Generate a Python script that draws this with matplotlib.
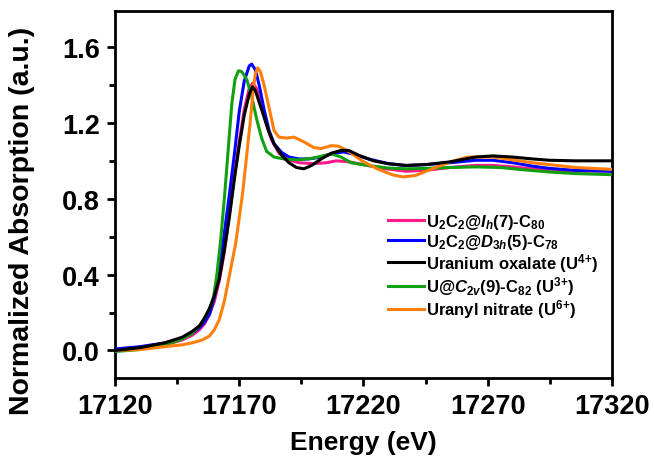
import matplotlib
matplotlib.use("Agg")
import matplotlib.pyplot as plt

plt.rcParams['font.family'] = ['Liberation Sans', 'DejaVu Sans']
plt.rcParams['font.weight'] = 'bold'
plt.rcParams['mathtext.fontset'] = 'custom'
plt.rcParams['mathtext.rm'] = 'Liberation Sans:bold'
plt.rcParams['mathtext.it'] = 'Liberation Sans:bold:italic'
plt.rcParams['mathtext.bf'] = 'Liberation Sans:bold'

# U L3-edge XANES curves (energy in eV, normalized absorption)
pinkE = [17120, 17130, 17140, 17147, 17151, 17154, 17156, 17158, 17160, 17162, 17164, 17166, 17168,
         17170, 17172, 17174, 17175.5, 17177, 17179, 17181, 17183, 17186, 17190, 17194, 17200, 17205,
         17209, 17214, 17220, 17228, 17237, 17245, 17255, 17265, 17272, 17280, 17290, 17300, 17320]
pinkA = [0.0, 0.01, 0.03, 0.055, 0.08, 0.11, 0.14, 0.19, 0.26, 0.37, 0.52, 0.72, 0.92,
         1.10, 1.27, 1.38, 1.41, 1.38, 1.29, 1.19, 1.11, 1.04, 1.005, 0.99, 0.985, 0.99,
         1.0, 0.995, 0.98, 0.96, 0.945, 0.95, 0.965, 0.976, 0.976, 0.968, 0.955, 0.947, 0.945]

blueE = [17120, 17130, 17140, 17147, 17151, 17154, 17156, 17158, 17160, 17162, 17164, 17166, 17168,
         17170, 17172, 17174, 17175, 17176.5, 17178, 17180, 17182, 17184, 17187, 17190, 17194, 17198,
         17203, 17208, 17212, 17216, 17222, 17230, 17237, 17245, 17255, 17265, 17272, 17280, 17288,
         17295, 17305, 17320]
blueA = [0.008, 0.02, 0.04, 0.065, 0.09, 0.12, 0.15, 0.19, 0.28, 0.42, 0.62, 0.82, 1.03,
         1.26, 1.42, 1.50, 1.51, 1.48, 1.40, 1.27, 1.16, 1.09, 1.045, 1.02, 1.01, 1.01,
         1.02, 1.04, 1.047, 1.035, 1.01, 0.985, 0.975, 0.98, 0.99, 1.003, 1.003, 0.99, 0.972,
         0.96, 0.95, 0.945]

blackE = [17120, 17130, 17140, 17147, 17151, 17154, 17156, 17158, 17160, 17162, 17164, 17166, 17168,
          17170, 17172, 17174, 17175.3, 17176.5, 17178, 17180, 17182, 17184, 17187, 17190, 17193, 17196,
          17199, 17203, 17207, 17211, 17214, 17218, 17224, 17230, 17237, 17245, 17255, 17265, 17272,
          17280, 17288, 17295, 17305, 17320]
blackA = [0.0, 0.015, 0.04, 0.07, 0.10, 0.13, 0.17, 0.22, 0.29, 0.38, 0.53, 0.70, 0.90,
          1.08, 1.24, 1.35, 1.39, 1.37, 1.31, 1.23, 1.15, 1.09, 1.03, 0.99, 0.965, 0.958,
          0.975, 1.01, 1.04, 1.055, 1.055, 1.03, 1.0, 0.985, 0.976, 0.98, 0.995, 1.02, 1.026,
          1.02, 1.01, 1.003, 1.0, 1.0]

greenE = [17120, 17130, 17140, 17147, 17151, 17154, 17156, 17158, 17159.5, 17161, 17162.5, 17164,
          17165.5, 17167, 17168.3, 17169.7, 17171, 17173, 17175, 17177, 17179, 17181, 17184, 17188,
          17194, 17200, 17207, 17211, 17215, 17222, 17230, 17237, 17245, 17255, 17265, 17275, 17285,
          17295, 17305, 17320]
greenA = [-0.005, 0.005, 0.03, 0.06, 0.09, 0.13, 0.17, 0.22, 0.27, 0.40, 0.58, 0.80,
          1.05, 1.30, 1.43, 1.475, 1.47, 1.43, 1.34, 1.22, 1.12, 1.05, 1.02, 1.01,
          1.005, 1.015, 1.037, 1.02, 0.99, 0.975, 0.962, 0.958, 0.96, 0.965, 0.968, 0.965, 0.952,
          0.941, 0.933, 0.927]

orangeE = [17120, 17130, 17140, 17147, 17151, 17155, 17158, 17160, 17162, 17164, 17165.5, 17167,
           17168.5, 17170, 17171.4, 17173, 17174.3, 17175.5, 17176.5, 17177.4, 17178.5, 17180, 17182,
           17184, 17186, 17189, 17192, 17196, 17200, 17203, 17207, 17210, 17214, 17220, 17226, 17232,
           17236, 17241, 17248, 17255, 17262, 17272, 17280, 17288, 17295, 17305, 17320]
orangeA = [0.0, 0.005, 0.02, 0.03, 0.04, 0.055, 0.076, 0.11, 0.164, 0.26, 0.36, 0.46,
           0.56, 0.70, 0.835, 1.03, 1.19, 1.36, 1.46, 1.49, 1.47, 1.40, 1.28,
           1.16, 1.125, 1.12, 1.125, 1.10, 1.07, 1.065, 1.08, 1.077, 1.05, 0.995, 0.955, 0.925,
           0.915, 0.923, 0.96, 0.995, 1.02, 1.02, 1.005, 0.99, 0.98, 0.965, 0.955]

labels = [r'U$_2$C$_2$@$I_h$(7)-C$_{80}$',
          r'U$_2$C$_2$@$D_{3h}$(5)-C$_{78}$',
          r'Uranium oxalate (U$^{4}$$^{+}$)',
          r'U@$C_{2v}$(9)-C$_{82}$ (U$^{3}$$^{+}$)',
          r'Uranyl nitrate (U$^{6}$$^{+}$)']

xMajor = [17120, 17170, 17220, 17270, 17320]
xMinor = [17145, 17195, 17245, 17295]
yMajor = [0.0, 0.4, 0.8, 1.2, 1.6]
yMinor = [0.2, 0.6, 1.0, 1.4]

fig = plt.figure(figsize=(6.54, 4.64), dpi=100)
ax = fig.add_axes([115 / 654, 85 / 464, 497 / 654, 367 / 464])

lPink, = ax.plot(pinkE, pinkA, color='#ff1a8c', lw=2.2, zorder=2)
lBlue, = ax.plot(blueE, blueA, color='#0000ff', lw=2.2, zorder=3)
lGreen, = ax.plot(greenE, greenA, color='#10a010', lw=2.2, zorder=4)
lOrange, = ax.plot(orangeE, orangeA, color='#ff7f0a', lw=2.2, zorder=5)
lBlack, = ax.plot(blackE, blackA, color='black', lw=2.2, zorder=6)

ax.set_xlim(17120, 17320)
ax.set_ylim(-0.145, 1.79)
ax.set_xticks(xMajor)
ax.set_xticks(xMinor, minor=True)
ax.set_yticks(yMajor)
ax.set_yticks(yMinor, minor=True)
ax.tick_params(which='major', length=6, width=2, pad=5, labelsize=19.5)
ax.tick_params(which='minor', length=4, width=2)
for s in ax.spines.values():
    s.set_linewidth(2)

ax.set_xlabel('Energy (eV)', fontsize=19, fontweight='bold', labelpad=8)
ax.set_ylabel('Normalized Absorption (a.u.)', fontsize=20.5, fontweight='bold')
ax.yaxis.set_label_coords(-0.16, 0.43)

ax.legend([lPink, lBlue, lBlack, lGreen, lOrange], labels, loc='upper left',
          bbox_to_anchor=(0.535, 0.47), frameon=False, fontsize=12,
          handlelength=2.2, handletextpad=0.1, labelspacing=0.02, borderaxespad=0)

fig.savefig('out.png', dpi=100)
